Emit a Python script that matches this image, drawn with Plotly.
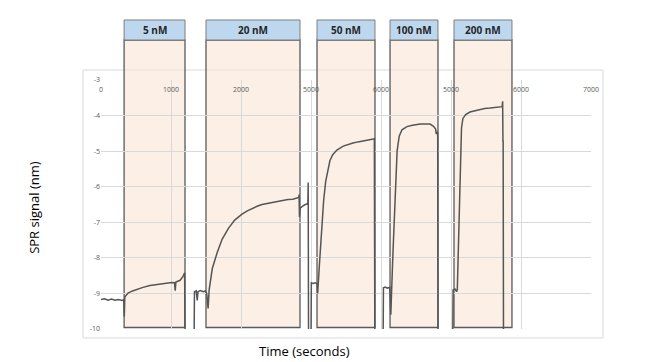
import plotly.graph_objects as go

# ---------------- data ----------------
time_s = [0, 50, 100, 150, 200, 250, 300, 325,
          330, 333, 340, 386, 450, 530, 600, 700, 770, 850, 930, 1010, 1050, 1060, 1070, 1130, 1170, 1195, 1200,
          1330, 1335, 1360, 1375, 1385, 1420, 1460, 1490,
          1510, 1530, 1545, 1590, 1660, 1730, 1820, 1910, 2010, 2090, 2160, 2230, 2300, 2400, 2490, 2580, 2670, 2740, 2800, 2825, 2830, 2835, 2845, 2870, 2900, 2940, 2955, 2960, 2965,
          3000, 3005, 3030, 3060, 3086, 3095, 3120, 3150, 3180, 3210, 3240, 3270, 3310, 3370, 3460, 3530, 3600, 3670, 3740, 3820, 3890, 3905, 3912,
          4030, 4035, 4060, 4090, 4125, 4140, 4170, 4200, 4230, 4260, 4300, 4370, 4450, 4560, 4650, 4700, 4750, 4780, 4790, 4800, 4810, 4815,
          5025, 5030, 5060, 5080, 5090, 5120, 5150, 5170, 5210, 5270, 5340, 5410, 5480, 5560, 5650, 5730, 5738, 5742, 5745, 5750]
signal_nm = [-9.17, -9.15, -9.19, -9.16, -9.19, -9.17, -9.20, -9.18,
             -9.55, -9.65, -9.10, -8.99, -8.93, -8.87, -8.83, -8.78, -8.76, -8.73, -8.71, -8.69, -8.70, -8.92, -8.68, -8.63, -8.53, -8.42, -10.3,
             -10.3, -8.95, -8.93, -9.20, -8.95, -8.92, -8.95, -8.93,
             -9.00, -9.42, -8.90, -8.30, -7.85, -7.48, -7.17, -6.94, -6.78, -6.68, -6.61, -6.55, -6.50, -6.46, -6.43, -6.39, -6.36, -6.35, -6.32, -6.30, -6.22, -6.85, -6.60, -6.55, -6.52, -6.48, -6.50, -5.88, -10.3,
             -10.3, -8.70, -8.72, -8.70, -8.72, -9.00, -8.20, -7.20, -6.40, -5.85, -5.50, -5.27, -5.10, -4.97, -4.86, -4.81, -4.77, -4.74, -4.72, -4.69, -4.66, -4.65, -10.3,
             -10.3, -8.84, -8.82, -8.85, -8.83, -9.60, -7.90, -6.30, -5.00, -4.58, -4.40, -4.31, -4.27, -4.24, -4.23, -4.24, -4.30, -4.38, -4.52, -4.45, -4.48, -10.3,
             -10.3, -8.90, -8.88, -8.95, -8.90, -6.20, -4.35, -4.08, -3.97, -3.90, -3.86, -3.82, -3.80, -3.79, -3.77, -3.75, -3.60, -4.74, -4.70, -10.3]

conc_labels = ["5 nM", "20 nM", "50 nM", "100 nM", "200 nM"]
conc_start_s = [330, 1500, 3086, 4129, 5043]
conc_end_s = [1200, 2843, 3914, 4814, 5871]

x_tickvals = [0, 1000, 2000, 3000, 4000, 5000, 6000, 7000]
x_ticktext = ["0", "1000", "2000", "5000", "6000", "5000", "6000", "7000"]
y_tickvals = [-3, -4, -5, -6, -7, -8, -9, -10]
y_ticktext = ["-3", "-4", "-5", "-6", "-7", "-8", "-9", "-10"]

# ---------------- figure ----------------
FONT = "Open Sans"
fig = go.Figure()

fig.add_trace(go.Scatter(
    x=time_s, y=signal_nm, mode="lines",
    line=dict(color="#555555", width=1.5),
    showlegend=False, hoverinfo="skip",
))

shapes = []
# outer chart frame
shapes.append(dict(type="rect", xref="paper", yref="paper",
                   x0=-0.0367, x1=1.0245, y0=-0.036, y1=1.040,
                   line=dict(color="#d9d9d9", width=1), fillcolor="rgba(0,0,0,0)", layer="below"))

annotations = []
for lab, s, e in zip(conc_labels, conc_start_s, conc_end_s):
    # shaded injection band
    shapes.append(dict(type="rect", xref="x", yref="paper", x0=s, x1=e, y0=0.006, y1=1.1606,
                       line=dict(color="#5a5a5a", width=1.3),
                       fillcolor="rgba(250,226,208,0.55)", layer="below"))
    # header box
    shapes.append(dict(type="rect", xref="x", yref="paper", x0=s, x1=e, y0=1.1606, y1=1.241,
                       line=dict(color="#7f7f7f", width=1),
                       fillcolor="#bdd7ee", layer="above"))
    annotations.append(dict(x=(s + e) / 2, y=1.2008, xref="x", yref="paper",
                            text=f"<b>{lab}</b>", showarrow=False,
                            font=dict(family=FONT, size=10, color="#262626"),
                            xanchor="center", yanchor="middle"))

annotations.append(dict(x=0.416, y=-0.088, xref="paper", yref="paper",
                        text="Time (seconds)", showarrow=False,
                        font=dict(family=FONT, size=13, color="#000000"),
                        xanchor="center", yanchor="middle"))
annotations.append(dict(x=-0.137, y=0.49, xref="paper", yref="paper",
                        text="SPR signal (nm)", showarrow=False, textangle=-90,
                        font=dict(family=FONT, size=13, color="#000000"),
                        xanchor="center", yanchor="middle"))

# the page body keeps an 8px browser margin, so the figure is offset by it
fig.update_layout(
    width=634, height=354,
    margin=dict(l=93, r=51, t=72, b=33),
    paper_bgcolor="white", plot_bgcolor="white",
    shapes=shapes, annotations=annotations,
    xaxis=dict(range=[0, 7000], tickvals=x_tickvals, ticktext=x_ticktext,
               side="bottom", anchor="free", position=0.984,
               showgrid=True, gridcolor="#d9d9d9", gridwidth=1,
               zeroline=False, showline=False, ticks="",
               tickfont=dict(family=FONT, size=7, color="#595959")),
    yaxis=dict(range=[-10, -3], tickvals=y_tickvals, ticktext=y_ticktext,
               showgrid=True, gridcolor="#d9d9d9", gridwidth=1,
               zeroline=False, showline=False, ticks="",
               tickfont=dict(family=FONT, size=7, color="#595959")),
)

fig.write_html("out.html")
